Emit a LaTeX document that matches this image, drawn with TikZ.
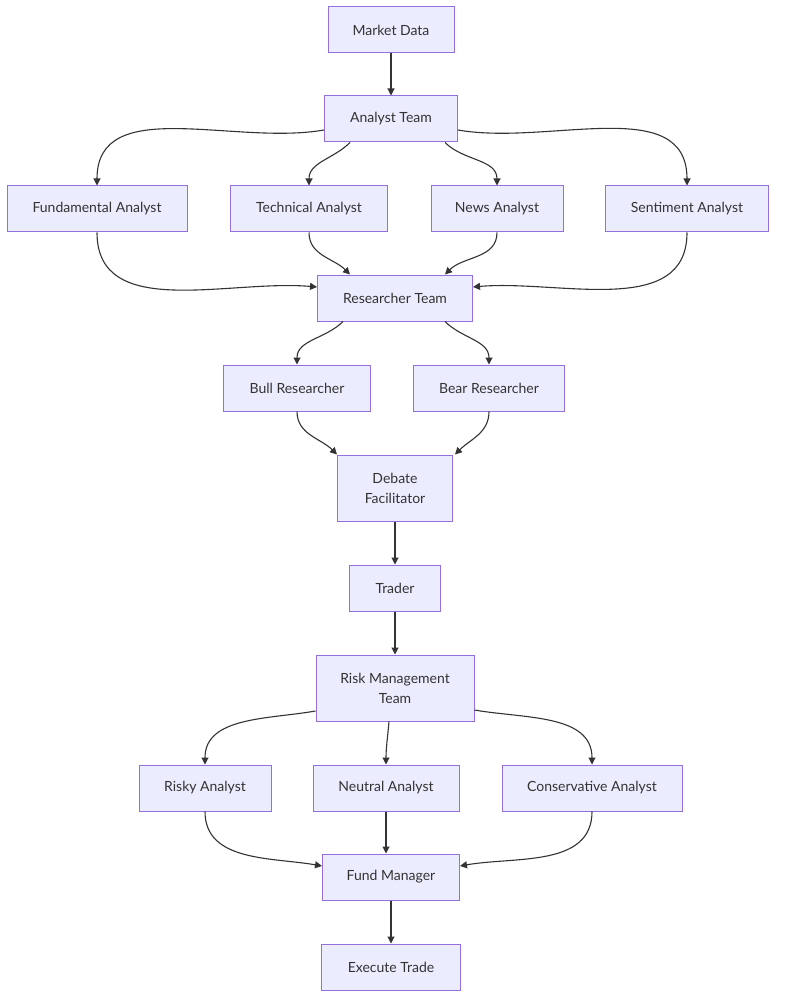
\documentclass[tikz,border=0pt]{standalone}
\usepackage{fontspec}
\setmainfont{Lato}
\usetikzlibrary{arrows.meta,calc}
\definecolor{nf}{HTML}{ECECFF}
\definecolor{nb}{HTML}{9370DB}
\definecolor{ed}{HTML}{333333}
\begin{document}
\begin{tikzpicture}[x=1pt,y=-1pt,
 n/.style={draw=nb,fill=nf,line width=1pt,minimum height=46pt,font=\fontsize{14}{20}\selectfont,text=ed,inner sep=0pt,align=center},
 e/.style={draw=ed,line width=1.1pt,-{Triangle[length=7pt,width=7pt]}}]
\useasboundingbox[fill=white] (0,0) rectangle (784,1008);
\node[n,minimum width=126pt] (md) at (391,30) {Market Data};
\node[n,minimum width=133pt] (at) at (391,119) {Analyst Team};
\node[n,minimum width=180pt] (fu) at (97,209) {Fundamental Analyst};
\node[n,minimum width=157pt] (te) at (309,209) {Technical Analyst};
\node[n,minimum width=132pt] (ne) at (497,209) {News Analyst};
\node[n,minimum width=163pt] (se) at (687,209) {Sentiment Analyst};
\node[n,minimum width=155pt] (rt) at (395,298) {Researcher Team};
\node[n,minimum width=147pt] (bu) at (297,388) {Bull Researcher};
\node[n,minimum width=151pt] (be) at (489,388) {Bear Researcher};
\node[n,minimum width=115pt,minimum height=66pt] (df) at (395,488) {Debate\\Facilitator};
\node[n,minimum width=91pt] (tr) at (395,588) {Trader};
\node[n,minimum width=158pt,minimum height=66pt] (rm) at (395,688) {Risk Management\\Team};
\node[n,minimum width=132pt] (ri) at (205,788) {Risky Analyst};
\node[n,minimum width=146pt] (nu) at (386,788) {Neutral Analyst};
\node[n,minimum width=180pt] (co) at (592,788) {Conservative Analyst};
\node[n,minimum width=137pt] (fm) at (391,877) {Fund Manager};
\node[n,minimum width=139pt] (ex) at (391,967) {Execute Trade};
\draw[e] (md) -- (at);
\draw[e] ($(at.west)+(0,11)$) to[out=190,in=90] (fu.north);
\draw[e] ($(at.south)+(-41,0)$) to[out=-135,in=90] (te.north);
\draw[e] ($(at.south)+(54,0)$) to[out=-45,in=90] (ne.north);
\draw[e] ($(at.east)+(0,11)$) to[out=-10,in=90] (se.north);
\draw[e] (fu.south) to[out=-90,in=175] ($(rt.west)+(0,-11)$);
\draw[e] (te.south) to[out=-90,in=135] ($(rt.north)+(-45,0)$);
\draw[e] (ne.south) to[out=-90,in=45] ($(rt.north)+(50,0)$);
\draw[e] (se.south) to[out=-90,in=5] ($(rt.east)+(0,-11)$);
\draw[e] ($(rt.south)+(-52,0)$) to[out=-135,in=90] (bu.north);
\draw[e] ($(rt.south)+(50,0)$) to[out=-45,in=90] (be.north);
\draw[e] (bu.south) to[out=-90,in=135] (df.north west);
\draw[e] (be.south) to[out=-90,in=45] ($(df.north east)+(2,0)$);
\draw[e] (df) -- (tr);
\draw[e] (tr) -- (rm);
\draw[e] ($(rm.west)+(0,23)$) to[out=190,in=90] (ri.north);
\draw[e] ($(rm.south)+(-6,0)$) to[out=-95,in=90] (nu.north);
\draw[e] ($(rm.east)+(0,22)$) to[out=-10,in=90] (co.north);
\draw[e] (ri.south) to[out=-90,in=170] ($(fm.west)+(0,-11)$);
\draw[e] (nu.south) -- ($(fm.north)+(-5,0)$);
\draw[e] (co.south) to[out=-90,in=10] ($(fm.east)+(0,-11)$);
\draw[e] (fm) -- (ex);
\end{tikzpicture}
\end{document}
